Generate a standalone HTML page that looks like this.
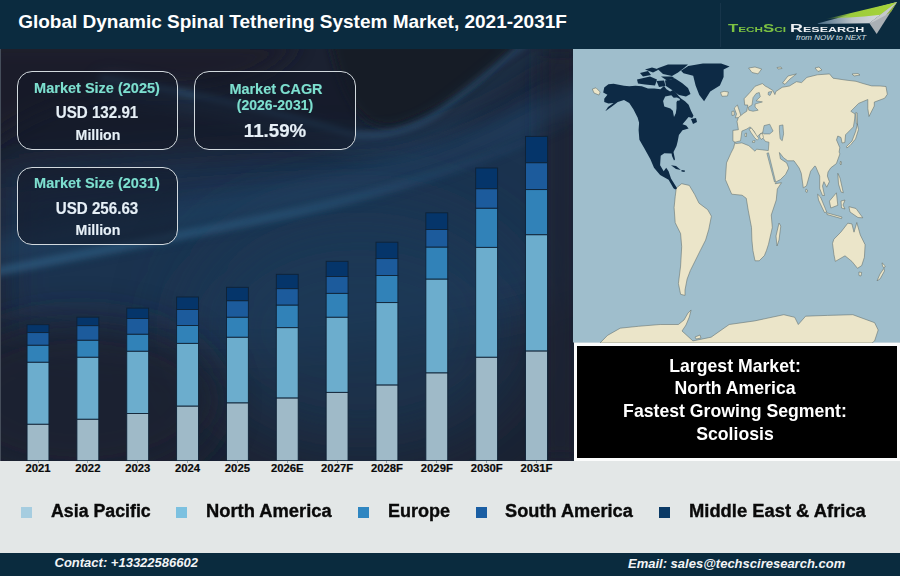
<!DOCTYPE html>
<html><head><meta charset="utf-8"><style>
html,body{margin:0;padding:0}
body{width:900px;height:576px;position:relative;overflow:hidden;background:#e3e7e7;font-family:"Liberation Sans", sans-serif}
.t{position:absolute;white-space:nowrap;line-height:1;font-family:"Liberation Sans", sans-serif}
</style></head><body>

<svg width="574" height="412" style="position:absolute;left:0;top:49px" viewBox="0 49 574 412">
 <defs>
  <filter id="b40" x="-50%" y="-50%" width="200%" height="200%"><feGaussianBlur stdDeviation="40"/></filter>
  <filter id="b20" x="-50%" y="-50%" width="200%" height="200%"><feGaussianBlur stdDeviation="20"/></filter>
  <filter id="b10" x="-50%" y="-50%" width="200%" height="200%"><feGaussianBlur stdDeviation="10"/></filter>
  <filter id="b5" x="-50%" y="-50%" width="200%" height="200%"><feGaussianBlur stdDeviation="5"/></filter>
  <filter id="b3" x="-50%" y="-50%" width="200%" height="200%"><feGaussianBlur stdDeviation="3"/></filter>
  <filter id="b2" x="-50%" y="-50%" width="200%" height="200%"><feGaussianBlur stdDeviation="1.8"/></filter>
  <linearGradient id="fadeR" x1="0" y1="0" x2="574" y2="0" gradientUnits="userSpaceOnUse">
   <stop offset="0" stop-color="#3a78a2" stop-opacity="0.75"/>
   <stop offset="0.5" stop-color="#3a78a2" stop-opacity="0.55"/>
   <stop offset="1" stop-color="#3a78a2" stop-opacity="0"/>
  </linearGradient>
 </defs>
 <rect x="0" y="49" width="574" height="412" fill="#1b2131"/>
 <!-- medium blue region between the streaks / center -->
 <path d="M0 175 Q 250 150 350 150 Q 450 150 574 60 L 574 300 Q 300 380 0 330 Z" fill="#1e3652" opacity="0.9" filter="url(#b20)"/>
 <ellipse cx="360" cy="330" rx="170" ry="120" fill="#1e3a58" opacity="0.7" filter="url(#b40)"/>
 <!-- darker lower-left and right edge -->
 <ellipse cx="80" cy="400" rx="140" ry="80" fill="#1b2030" opacity="0.8" filter="url(#b20)"/>
 <rect x="540" y="49" width="40" height="412" fill="#1b2130" opacity="0.8" filter="url(#b10)"/>
 <!-- dark blob upper right -->
 <path d="M330 40 Q 350 140 400 125 Q 470 100 520 40 Z" fill="#171a26" filter="url(#b5)"/>
 <!-- dark top-left -->
 <path d="M-20 40 L 300 40 Q 260 100 120 90 Q 40 100 -20 150 Z" fill="#1b1d2a" opacity="0.9" filter="url(#b10)"/>
 <!-- upper streak along blob edge -->
 <path d="M100 78 Q 240 100 350 134 Q 400 140 440 112 Q 480 80 530 40" fill="none" stroke="#3a75a0" stroke-width="4" opacity="0.55" filter="url(#b3)"/>
 <path d="M100 84 Q 240 108 350 142 Q 410 150 450 118 Q 490 88 540 45" fill="none" stroke="#2a5a80" stroke-width="14" opacity="0.35" filter="url(#b10)"/>
 <!-- lower streak -->
 <path d="M-30 270 Q 150 236 300 206 Q 450 172 600 98 L 600 76 Q 450 150 300 182 Q 150 210 -30 244 Z" fill="#24496c" opacity="0.45" filter="url(#b10)"/>
 <path d="M-30 281 Q 150 246 300 216 Q 450 182 600 116 L 600 108 Q 450 173 300 207 Q 150 237 -30 272 Z" fill="url(#fadeR)" opacity="0.6" filter="url(#b3)"/>
</svg>
<div style="position:absolute;left:0;top:49px;width:1px;height:411.7px;background:#454d5a"></div>
<svg width="574" height="470" style="position:absolute;left:0;top:0" viewBox="0 0 574 470">
<rect x="27.05" y="324.70" width="21.9" height="7.90" fill="#05356a" stroke="#0f2236" stroke-width="0.9"/>
<rect x="27.05" y="332.60" width="21.9" height="12.70" fill="#1c5b9c" stroke="#0f2236" stroke-width="0.9"/>
<rect x="27.05" y="345.30" width="21.9" height="17.00" fill="#3182b8" stroke="#0f2236" stroke-width="0.9"/>
<rect x="27.05" y="362.30" width="21.9" height="62.00" fill="#6cadcd" stroke="#0f2236" stroke-width="0.9"/>
<rect x="27.05" y="424.30" width="21.9" height="36.40" fill="#9fbac8" stroke="#0f2236" stroke-width="0.9"/>
<rect x="76.90" y="317.20" width="21.9" height="8.50" fill="#05356a" stroke="#0f2236" stroke-width="0.9"/>
<rect x="76.90" y="325.70" width="21.9" height="14.60" fill="#1c5b9c" stroke="#0f2236" stroke-width="0.9"/>
<rect x="76.90" y="340.30" width="21.9" height="17.00" fill="#3182b8" stroke="#0f2236" stroke-width="0.9"/>
<rect x="76.90" y="357.30" width="21.9" height="62.00" fill="#6cadcd" stroke="#0f2236" stroke-width="0.9"/>
<rect x="76.90" y="419.30" width="21.9" height="41.40" fill="#9fbac8" stroke="#0f2236" stroke-width="0.9"/>
<rect x="126.75" y="308.10" width="21.9" height="10.40" fill="#05356a" stroke="#0f2236" stroke-width="0.9"/>
<rect x="126.75" y="318.50" width="21.9" height="15.80" fill="#1c5b9c" stroke="#0f2236" stroke-width="0.9"/>
<rect x="126.75" y="334.30" width="21.9" height="17.00" fill="#3182b8" stroke="#0f2236" stroke-width="0.9"/>
<rect x="126.75" y="351.30" width="21.9" height="62.20" fill="#6cadcd" stroke="#0f2236" stroke-width="0.9"/>
<rect x="126.75" y="413.50" width="21.9" height="47.20" fill="#9fbac8" stroke="#0f2236" stroke-width="0.9"/>
<rect x="176.60" y="297.00" width="21.9" height="12.50" fill="#05356a" stroke="#0f2236" stroke-width="0.9"/>
<rect x="176.60" y="309.50" width="21.9" height="16.00" fill="#1c5b9c" stroke="#0f2236" stroke-width="0.9"/>
<rect x="176.60" y="325.50" width="21.9" height="17.90" fill="#3182b8" stroke="#0f2236" stroke-width="0.9"/>
<rect x="176.60" y="343.40" width="21.9" height="62.80" fill="#6cadcd" stroke="#0f2236" stroke-width="0.9"/>
<rect x="176.60" y="406.20" width="21.9" height="54.50" fill="#9fbac8" stroke="#0f2236" stroke-width="0.9"/>
<rect x="226.45" y="287.30" width="21.9" height="13.50" fill="#05356a" stroke="#0f2236" stroke-width="0.9"/>
<rect x="226.45" y="300.80" width="21.9" height="16.50" fill="#1c5b9c" stroke="#0f2236" stroke-width="0.9"/>
<rect x="226.45" y="317.30" width="21.9" height="20.00" fill="#3182b8" stroke="#0f2236" stroke-width="0.9"/>
<rect x="226.45" y="337.30" width="21.9" height="65.70" fill="#6cadcd" stroke="#0f2236" stroke-width="0.9"/>
<rect x="226.45" y="403.00" width="21.9" height="57.70" fill="#9fbac8" stroke="#0f2236" stroke-width="0.9"/>
<rect x="276.30" y="274.30" width="21.9" height="14.40" fill="#05356a" stroke="#0f2236" stroke-width="0.9"/>
<rect x="276.30" y="288.70" width="21.9" height="16.50" fill="#1c5b9c" stroke="#0f2236" stroke-width="0.9"/>
<rect x="276.30" y="305.20" width="21.9" height="22.50" fill="#3182b8" stroke="#0f2236" stroke-width="0.9"/>
<rect x="276.30" y="327.70" width="21.9" height="70.40" fill="#6cadcd" stroke="#0f2236" stroke-width="0.9"/>
<rect x="276.30" y="398.10" width="21.9" height="62.60" fill="#9fbac8" stroke="#0f2236" stroke-width="0.9"/>
<rect x="326.15" y="261.30" width="21.9" height="15.20" fill="#05356a" stroke="#0f2236" stroke-width="0.9"/>
<rect x="326.15" y="276.50" width="21.9" height="16.90" fill="#1c5b9c" stroke="#0f2236" stroke-width="0.9"/>
<rect x="326.15" y="293.40" width="21.9" height="23.90" fill="#3182b8" stroke="#0f2236" stroke-width="0.9"/>
<rect x="326.15" y="317.30" width="21.9" height="75.10" fill="#6cadcd" stroke="#0f2236" stroke-width="0.9"/>
<rect x="326.15" y="392.40" width="21.9" height="68.30" fill="#9fbac8" stroke="#0f2236" stroke-width="0.9"/>
<rect x="376.00" y="242.20" width="21.9" height="16.40" fill="#05356a" stroke="#0f2236" stroke-width="0.9"/>
<rect x="376.00" y="258.60" width="21.9" height="16.90" fill="#1c5b9c" stroke="#0f2236" stroke-width="0.9"/>
<rect x="376.00" y="275.50" width="21.9" height="27.10" fill="#3182b8" stroke="#0f2236" stroke-width="0.9"/>
<rect x="376.00" y="302.60" width="21.9" height="82.50" fill="#6cadcd" stroke="#0f2236" stroke-width="0.9"/>
<rect x="376.00" y="385.10" width="21.9" height="75.60" fill="#9fbac8" stroke="#0f2236" stroke-width="0.9"/>
<rect x="425.85" y="212.80" width="21.9" height="16.70" fill="#05356a" stroke="#0f2236" stroke-width="0.9"/>
<rect x="425.85" y="229.50" width="21.9" height="17.70" fill="#1c5b9c" stroke="#0f2236" stroke-width="0.9"/>
<rect x="425.85" y="247.20" width="21.9" height="32.00" fill="#3182b8" stroke="#0f2236" stroke-width="0.9"/>
<rect x="425.85" y="279.20" width="21.9" height="93.80" fill="#6cadcd" stroke="#0f2236" stroke-width="0.9"/>
<rect x="425.85" y="373.00" width="21.9" height="87.70" fill="#9fbac8" stroke="#0f2236" stroke-width="0.9"/>
<rect x="475.70" y="168.00" width="21.9" height="20.80" fill="#05356a" stroke="#0f2236" stroke-width="0.9"/>
<rect x="475.70" y="188.80" width="21.9" height="19.50" fill="#1c5b9c" stroke="#0f2236" stroke-width="0.9"/>
<rect x="475.70" y="208.30" width="21.9" height="39.10" fill="#3182b8" stroke="#0f2236" stroke-width="0.9"/>
<rect x="475.70" y="247.40" width="21.9" height="109.90" fill="#6cadcd" stroke="#0f2236" stroke-width="0.9"/>
<rect x="475.70" y="357.30" width="21.9" height="103.40" fill="#9fbac8" stroke="#0f2236" stroke-width="0.9"/>
<rect x="525.55" y="136.40" width="21.9" height="26.40" fill="#05356a" stroke="#0f2236" stroke-width="0.9"/>
<rect x="525.55" y="162.80" width="21.9" height="26.80" fill="#1c5b9c" stroke="#0f2236" stroke-width="0.9"/>
<rect x="525.55" y="189.60" width="21.9" height="45.20" fill="#3182b8" stroke="#0f2236" stroke-width="0.9"/>
<rect x="525.55" y="234.80" width="21.9" height="116.30" fill="#6cadcd" stroke="#0f2236" stroke-width="0.9"/>
<rect x="525.55" y="351.10" width="21.9" height="109.60" fill="#9fbac8" stroke="#0f2236" stroke-width="0.9"/>
</svg>
<div style="position:absolute;left:0;top:0;width:900px;height:49px;background:#0b2b3f"></div>
<div class="t" style="left:18.20px;top:12.32px;font-size:19px;color:#fff;font-weight:bold;font-style:normal;">Global Dynamic Spinal Tethering System Market, 2021-2031F</div>
<svg width="180" height="49" style="position:absolute;left:720px;top:0" viewBox="720 0 180 49">
 <line x1="720.5" y1="3" x2="720.5" y2="47" stroke="#17354a" stroke-width="1"/>
 <defs>
  <linearGradient id="wing" x1="815" y1="0" x2="897" y2="0" gradientUnits="userSpaceOnUse">
   <stop offset="0" stop-color="#3f6580"/><stop offset="0.45" stop-color="#b9c1c8"/><stop offset="1" stop-color="#e4e6e8"/>
  </linearGradient>
  <linearGradient id="grn" x1="825" y1="0" x2="897" y2="0" gradientUnits="userSpaceOnUse">
   <stop offset="0" stop-color="#8fc03a" stop-opacity="0"/><stop offset="0.35" stop-color="#9ccc3a"/><stop offset="1" stop-color="#a8d43c"/>
  </linearGradient>
 </defs>
 <polygon points="897,2 815.6,23.9 869.4,23.3" fill="url(#wing)"/>
 <polygon points="897,2 826,19 864,16.5 888,14" fill="url(#grn)"/>
 <polygon points="897,2 869.4,23.3 876.7,33.9" fill="#aab0b5"/>
 <polygon points="897,2 888,14 873,22 869.4,23.3" fill="#c5c9cc"/>
 <polygon points="897,2 886,15 891,12" fill="#8cab3a"/>
</svg>
<div class="t" style="left:727.8px;top:24.4px;font-size:10px;font-weight:bold;color:#7cc242;transform:scaleX(1.68);transform-origin:left top;font-variant:small-caps">TechSci</div>
<div class="t" style="left:790px;top:24.4px;font-size:10px;font-weight:bold;color:#eef1f4;transform:scaleX(1.79);transform-origin:left top;font-variant:small-caps">Research</div>
<div class="t" style="left:796px;top:34px;font-size:8px;font-style:italic;color:#d9e2e8">from NOW to NEXT</div>
<div style="position:absolute;left:17px;top:71.4px;width:161px;height:78.79999999999998px;box-sizing:border-box;border:1.8px solid #d2d9de;border-radius:15px;background:rgba(18,24,38,0.55)"></div>
<div class="t" style="left:-403.30px;width:1000px;text-align:center;top:80.05px;font-size:15.3px;color:#7ddfcf;font-weight:bold;font-style:normal;-webkit-text-stroke:0.15px #7ddfcf;transform:scaleX(0.948);transform-origin:center top;">Market Size (2025)</div>
<div class="t" style="left:-403.00px;width:1000px;text-align:center;top:104.39px;font-size:16.2px;color:#e6eff6;font-weight:bold;font-style:normal;-webkit-text-stroke:0.15px #e6eff6;transform:scaleX(0.935);transform-origin:center top;">USD 132.91</div>
<div class="t" style="left:-402.20px;width:1000px;text-align:center;top:128.19px;font-size:14.9px;color:#e6eff6;font-weight:bold;font-style:normal;-webkit-text-stroke:0.15px #e6eff6;transform:scaleX(0.95);transform-origin:center top;">Million</div>
<div style="position:absolute;left:194px;top:71.4px;width:162px;height:78.79999999999998px;box-sizing:border-box;border:1.8px solid #d2d9de;border-radius:15px;background:rgba(18,24,38,0.55)"></div>
<div class="t" style="left:-224.00px;width:1000px;text-align:center;top:81.74px;font-size:14.6px;color:#7ddfcf;font-weight:bold;font-style:normal;-webkit-text-stroke:0.15px #7ddfcf;transform:scaleX(0.99);transform-origin:center top;">Market CAGR</div>
<div class="t" style="left:-225.00px;width:1000px;text-align:center;top:97.84px;font-size:14.6px;color:#7ddfcf;font-weight:bold;font-style:normal;-webkit-text-stroke:0.15px #7ddfcf;transform:scaleX(0.96);transform-origin:center top;">(2026-2031)</div>
<div class="t" style="left:-224.80px;width:1000px;text-align:center;top:121.45px;font-size:19.2px;color:#e6eff6;font-weight:bold;font-style:normal;-webkit-text-stroke:0.2px #e6eff6;transform:scaleX(0.975);transform-origin:center top;">11.59%</div>
<div style="position:absolute;left:17px;top:166.8px;width:161px;height:78.39999999999998px;box-sizing:border-box;border:1.8px solid #d2d9de;border-radius:15px;background:rgba(18,24,38,0.55)"></div>
<div class="t" style="left:-403.20px;width:1000px;text-align:center;top:175.45px;font-size:15.3px;color:#7ddfcf;font-weight:bold;font-style:normal;-webkit-text-stroke:0.15px #7ddfcf;transform:scaleX(0.948);transform-origin:center top;">Market Size (2031)</div>
<div class="t" style="left:-402.80px;width:1000px;text-align:center;top:199.69px;font-size:16.2px;color:#e6eff6;font-weight:bold;font-style:normal;-webkit-text-stroke:0.15px #e6eff6;transform:scaleX(0.935);transform-origin:center top;">USD 256.63</div>
<div class="t" style="left:-402.00px;width:1000px;text-align:center;top:223.49px;font-size:14.9px;color:#e6eff6;font-weight:bold;font-style:normal;-webkit-text-stroke:0.15px #e6eff6;transform:scaleX(0.95);transform-origin:center top;">Million</div>
<div style="position:absolute;left:0;top:460.7px;width:900px;height:92.3px;background:#e3e7e7"></div>
<div class="t" style="left:-462.00px;width:1000px;text-align:center;top:462.93px;font-size:11.3px;color:#0a0a0a;font-weight:bold;font-style:normal;-webkit-text-stroke:0.2px #0a0a0a;">2021</div>
<div style="position:absolute;left:37.50px;top:460.7px;width:1px;height:2.5px;background:#9aa4aa"></div>
<div class="t" style="left:-412.15px;width:1000px;text-align:center;top:462.93px;font-size:11.3px;color:#0a0a0a;font-weight:bold;font-style:normal;-webkit-text-stroke:0.2px #0a0a0a;">2022</div>
<div style="position:absolute;left:87.35px;top:460.7px;width:1px;height:2.5px;background:#9aa4aa"></div>
<div class="t" style="left:-362.30px;width:1000px;text-align:center;top:462.93px;font-size:11.3px;color:#0a0a0a;font-weight:bold;font-style:normal;-webkit-text-stroke:0.2px #0a0a0a;">2023</div>
<div style="position:absolute;left:137.20px;top:460.7px;width:1px;height:2.5px;background:#9aa4aa"></div>
<div class="t" style="left:-312.45px;width:1000px;text-align:center;top:462.93px;font-size:11.3px;color:#0a0a0a;font-weight:bold;font-style:normal;-webkit-text-stroke:0.2px #0a0a0a;">2024</div>
<div style="position:absolute;left:187.05px;top:460.7px;width:1px;height:2.5px;background:#9aa4aa"></div>
<div class="t" style="left:-262.60px;width:1000px;text-align:center;top:462.93px;font-size:11.3px;color:#0a0a0a;font-weight:bold;font-style:normal;-webkit-text-stroke:0.2px #0a0a0a;">2025</div>
<div style="position:absolute;left:236.90px;top:460.7px;width:1px;height:2.5px;background:#9aa4aa"></div>
<div class="t" style="left:-212.75px;width:1000px;text-align:center;top:462.93px;font-size:11.3px;color:#0a0a0a;font-weight:bold;font-style:normal;-webkit-text-stroke:0.2px #0a0a0a;">2026E</div>
<div style="position:absolute;left:286.75px;top:460.7px;width:1px;height:2.5px;background:#9aa4aa"></div>
<div class="t" style="left:-162.90px;width:1000px;text-align:center;top:462.93px;font-size:11.3px;color:#0a0a0a;font-weight:bold;font-style:normal;-webkit-text-stroke:0.2px #0a0a0a;">2027F</div>
<div style="position:absolute;left:336.60px;top:460.7px;width:1px;height:2.5px;background:#9aa4aa"></div>
<div class="t" style="left:-113.05px;width:1000px;text-align:center;top:462.93px;font-size:11.3px;color:#0a0a0a;font-weight:bold;font-style:normal;-webkit-text-stroke:0.2px #0a0a0a;">2028F</div>
<div style="position:absolute;left:386.45px;top:460.7px;width:1px;height:2.5px;background:#9aa4aa"></div>
<div class="t" style="left:-63.20px;width:1000px;text-align:center;top:462.93px;font-size:11.3px;color:#0a0a0a;font-weight:bold;font-style:normal;-webkit-text-stroke:0.2px #0a0a0a;">2029F</div>
<div style="position:absolute;left:436.30px;top:460.7px;width:1px;height:2.5px;background:#9aa4aa"></div>
<div class="t" style="left:-13.35px;width:1000px;text-align:center;top:462.93px;font-size:11.3px;color:#0a0a0a;font-weight:bold;font-style:normal;-webkit-text-stroke:0.2px #0a0a0a;">2030F</div>
<div style="position:absolute;left:486.15px;top:460.7px;width:1px;height:2.5px;background:#9aa4aa"></div>
<div class="t" style="left:36.50px;width:1000px;text-align:center;top:462.93px;font-size:11.3px;color:#0a0a0a;font-weight:bold;font-style:normal;-webkit-text-stroke:0.2px #0a0a0a;">2031F</div>
<div style="position:absolute;left:536.00px;top:460.7px;width:1px;height:2.5px;background:#9aa4aa"></div>
<div style="position:absolute;left:21px;top:507px;width:11px;height:11px;background:#a6cde0"></div>
<div class="t" style="left:50.60px;top:503.20px;font-size:17.6px;color:#0a0a0a;font-weight:bold;font-style:normal;-webkit-text-stroke:0.35px #0a0a0a;transform:scaleX(1.0098);transform-origin:left top;">Asia Pacific</div>
<div style="position:absolute;left:176px;top:507px;width:11px;height:11px;background:#7cc1e0"></div>
<div class="t" style="left:205.70px;top:503.20px;font-size:17.6px;color:#0a0a0a;font-weight:bold;font-style:normal;-webkit-text-stroke:0.35px #0a0a0a;transform:scaleX(1.04247);transform-origin:left top;">North America</div>
<div style="position:absolute;left:358.3px;top:507px;width:11px;height:11px;background:#2f86c1"></div>
<div class="t" style="left:388.30px;top:503.20px;font-size:17.6px;color:#0a0a0a;font-weight:bold;font-style:normal;-webkit-text-stroke:0.35px #0a0a0a;transform:scaleX(1.0246499999999998);transform-origin:left top;">Europe</div>
<div style="position:absolute;left:476px;top:507px;width:11px;height:11px;background:#1a5ea3"></div>
<div class="t" style="left:505.00px;top:503.20px;font-size:17.6px;color:#0a0a0a;font-weight:bold;font-style:normal;-webkit-text-stroke:0.35px #0a0a0a;transform:scaleX(1.0345499999999999);transform-origin:left top;">South America</div>
<div style="position:absolute;left:659px;top:507px;width:11px;height:11px;background:#0b3a66"></div>
<div class="t" style="left:689.00px;top:503.20px;font-size:17.6px;color:#0a0a0a;font-weight:bold;font-style:normal;-webkit-text-stroke:0.35px #0a0a0a;transform:scaleX(1.04346);transform-origin:left top;">Middle East &amp; Africa</div>
<div style="position:absolute;left:0;top:553px;width:900px;height:23px;background:#0a2b3e"></div>
<div class="t" style="left:54.50px;top:555.80px;font-size:13px;color:#f2f4f6;font-weight:bold;font-style:italic;">Contact: +13322586602</div>
<div class="t" style="left:628.00px;top:557.00px;font-size:13px;color:#f2f4f6;font-weight:bold;font-style:italic;">Email: sales@techsciresearch.com</div>
<svg width="327" height="293.5" style="position:absolute;left:573px;top:49px" viewBox="573 49 327 293.5">
 <rect x="573" y="49" width="327" height="293.5" fill="#9fbecc"/>
 <g fill="#ebe5c9" stroke="#5f6d6b" stroke-width="0.55" stroke-linejoin="round">
  <!-- Chukotka -->
  <path d="M592.3 89 L596 87.8 L600.2 92 L599 95.1 L594 93 Z"/>
  <!-- Iceland -->
  <path d="M720.5 92.5 L724 91.3 L728.4 92 L727.5 96 L722 96.3 Z"/>
  <!-- Svalbard -->
  <path d="M748.6 68 L755 67 L761.7 69 L758 73.9 L752 72.5 Z"/>
  <!-- Franz Josef / small -->
  <path d="M777 67.5 L781 67 L782 68.5 L778 69 Z"/>
  <!-- Novaya Zemlya -->
  <path d="M782.5 83 L788 76 L796.4 73.9 L790 79 L785 84.3 Z"/>
  <!-- Severnaya Zemlya / New Siberian -->
  <path d="M815 68 L819 67 L822 70 L818 71.5 Z"/>
  <path d="M852 74 L858 73.5 L860 75 L854 76 Z"/>
  <!-- UK + Ireland -->
  <path d="M734.25 108.1 L737.4 105 L739.5 111.25 L741.5 117.5 L735.3 117.8 L736.5 114 Z"/>
  <path d="M731.8 111.5 L734 111 L734.3 115 L732 115.5 Z"/>
  <!-- Eurasia + Africa -->
  <path d="M744.7 105 L744.1 98.75 L749.9 92.5 L755.1 86.25 L762.4 83.6 L765.5 86.25 L767.6 87.3 L772.8 90.4 L774.9 94.6 L775.9 91.5 L782.2 87.3 L789.4 86 L796.4 81.7 L801.6 82.6 L806.9 77.4 L817.4 74.8 L829.5 73.9 L833 78.2 L845.1 80 L856 81.3 L863 83.5 L871.7 85.9 L880 86 L886 86.5 L887.3 94.3 L884.7 98.2 L874.3 102.1 L874.3 106 L869 116.5 L867.8 108.6 L867.8 99.5 L858.6 103.4 L850.8 111.25 L855 114 L854.7 119 L853.4 126.9 L845.6 134.7 L844.8 142.5 L842 143 L841 137.5 L837.8 136 L836.5 139.9 L839.8 147.7 L839.1 152 L839.9 153.9 L836.4 163.6 L830.8 167.8 L828 172 L827.4 176.1 L829.4 181.7 L826.7 187.2 L823.9 181.7 L822.5 186 L824.5 195.5 L822.5 195.5 L819.7 188.6 L819.7 176.1 L815.6 166.4 L814.8 166 L810.6 171.25 L806.5 185.8 L803.3 187.9 L801.25 173.3 L799.2 168.1 L794 160.8 L787.7 160.8 L783.5 157.7 L779.4 152.5 L780.4 158.75 L786.7 162.9 L788.75 168.1 L785.6 174.4 L780.4 179.6 L776.25 181.7 L775.2 183.75 L781.5 182.7 L777.3 189 L776.25 200 L771.25 215 L772.3 227.5 L768.5 244.2 L766.5 250.4 L764.4 255.6 L759.2 260.8 L755 260.8 L752.9 250.4 L751.9 240 L751.5 227.5 L748.3 210.8 L746.25 198.3 L742.1 195.2 L731.7 194.2 L725.4 179.6 L726.5 162.9 L730.8 153.3 L733.6 147.8 L735 142.2 L732.9 140.8 L732.9 130.4 L738.4 129.7 L737 121.4 L738.4 117.5 L743.6 113.3 L746.75 111.25 L747.8 105 Z"/>
  <!-- Madagascar -->
  <path d="M779 223 L780.8 226 L779 240 L777 246 L776 236 Z"/>
  <!-- Sri Lanka -->
  <path d="M806 189 L807.5 190 L807 192.5 L805.5 191.5 Z"/>
  <!-- Japan -->
  <path d="M857.3 124 L858.5 129.5 L855.5 139 L850 145.5 L846.9 148 L846.5 146.5 L852 141 L855.8 131 Z"/>
  <path d="M855.8 112.5 L857.2 113 L857.5 124 L856.3 123.5 Z"/>
  <!-- Taiwan / Hainan -->
  <path d="M840.5 161 L841.5 162 L841 165 L840 164 Z"/>
  <!-- Sumatra, Java -->
  <path d="M817.6 194.2 L820.5 197 L826.7 212 L824.5 212.5 L818.5 200 Z"/>
  <path d="M826.7 212.8 L842 217 L841.5 218.6 L827 214.5 Z"/>
  <!-- Borneo -->
  <path d="M829.4 201.1 L836.4 192.8 L837.8 205.3 L830.8 208 Z"/>
  <!-- Sulawesi -->
  <path d="M841 201 L845 200 L843 205 L845 209 L841.5 208 Z"/>
  <!-- Philippines -->
  <path d="M837.8 173.3 L840 178 L843.3 192.8 L841 192 L838.5 184 Z"/>
  <!-- New Guinea -->
  <path d="M848.9 206.7 L856 208.5 L862.8 217.8 L858 217.5 L850 212 Z"/>
  <!-- Australia -->
  <path d="M833.9 239.2 L840.8 232.2 L847.8 223.2 L851.9 223.9 L854 232.2 L856.8 222.5 L860.3 235 L865.1 244.7 L864.4 257.2 L861.7 265.6 L857.5 268.3 L851.9 261.4 L845 255.8 L835.3 261.4 L833.9 254.4 L832.5 243.3 Z"/>
  <path d="M858.9 272 L861.7 272.5 L861 276 L859 275.5 Z"/>
  <!-- New Zealand -->
  <path d="M877 280.8 L880 274 L883.9 268.3 L884.5 271 L880 279 Z"/>
  <path d="M882 262.8 L885.3 266 L884 268 L882.5 266 Z"/>
  <!-- South America -->
  <path d="M676.3 188 L681.7 183.7 L689.3 185.4 L694.7 194.5 L699 203.2 L707.7 209.7 L711.4 216.2 L708.8 229.2 L705.6 240.1 L700.1 250.9 L694.7 261.8 L690.4 270.4 L687.1 279.1 L685 290 L685 295.4 L680.6 294.3 L678.4 283.5 L680.6 266.1 L681.7 246.6 L680.6 233.6 L675.2 222.7 L674.1 207.5 L675.2 196.7 Z"/>
  <!-- Antarctica -->
  <path d="M600 343 L607.5 335.4 L620.2 328.2 L638.4 326.3 L660.2 324.5 L678.4 324.5 L684 320 L688 313 L691.1 310 L689.3 317 L686 325 L682 331 L692.9 340.9 L711.1 337.2 L729.2 324.5 L754.7 320.9 L783.8 314.7 L794.7 317.3 L798.3 324.5 L805.6 316.2 L827.4 315.4 L852.8 314.7 L874.6 322.7 L878.2 330 L874.6 340.9 L872 343 Z"/>
  <path d="M695 337 L700 335 L701 338 L696 339 Z"/>
 </g>
 <!-- inland seas -->
 <g fill="#9fbecc" stroke="#5f6d6b" stroke-width="0.5" stroke-linejoin="round">
  <!-- Mediterranean -->
  <path d="M735 142.2 L740.5 140.8 L741.9 131.1 L746.75 129 L750.2 126.9 L754.4 131.8 L756.5 137.4 L758.6 135.3 L760 133.9 L762.7 132.5 L761.3 136 L765.5 141.5 L769 142.2 L768.3 150.6 L762.7 149.9 L756.5 149.2 L755 151.25 L748.8 145.7 L741.9 142.9 L735.6 143.6 Z"/>
  <!-- Black Sea -->
  <path d="M762.7 132.5 L764.1 125.6 L769.7 124.2 L773.1 131.1 L769.7 133.9 L764.1 133.9 Z"/>
  <!-- Caspian -->
  <path d="M779.4 125.6 L782.9 124.9 L783.6 133.9 L782.2 140.8 L780.1 138.75 L779.4 130.4 Z"/>
  <!-- Baltic -->
  <path d="M759.25 92.5 L760.3 96.7 L756.1 100.8 L762.4 101.9 L755.1 104 L755.1 107.1 L758.2 110.2 L753 111.25 L748.8 110.2 L748.3 107.1 L752 105 L753 97.7 L756.1 93.5 Z"/>
  <!-- Red Sea -->
  <path d="M766.9 153.3 L768.5 152.8 L775.6 181.7 L774.5 182 Z"/>
  <!-- White Sea -->
  <path d="M768.5 92 L772 91.5 L770 95.5 L768 94.5 Z"/>
 </g>
 <g fill="#ebe5c9" stroke="#5f6d6b" stroke-width="0.5" stroke-linejoin="round">
  <path d="M749 129 L751.5 128 L754 131.5 L757 136 L758.8 138.3 L757.2 140.2 L754.5 137.5 L751 132.5 Z"/>
  <path d="M752.5 141 L755 140.5 L754.5 142.5 L752.5 142.5 Z"/>
  <path d="M745 133.5 L746.5 133 L746.5 136.5 L745 136.5 Z"/>
  <path d="M760 134 L762.5 133.5 L763.5 137.5 L761.5 139.5 L759.5 137 Z"/>
 </g>
 <!-- North America (dark) -->
 <g fill="#0d2a45">
  <path d="M604.25 87.4 L608.4 84.25 L613.6 83.7 L624 85.8 L629.25 86.3 L635.5 85.8 L641.75 86.3 L648 88.4 L654.3 88.6 L660.4 89.2 L664 86.1 L666.5 89.2 L670.1 91.6 L673 90 L676 92.5 L678.6 96 L681 98.5 L685 101.3 L688.6 104.7 L691 110.8 L693.5 115.7 L692.2 118.1 L688.6 116.9 L682.5 124.2 L686.2 125.4 L688.6 128.4 L682.5 130.2 L678.9 135.1 L677.7 141.2 L676.5 146 L673.5 152 L675 159.5 L674 160.6 L672 156 L671.6 153.5 L664.3 153.3 L660.7 155.8 L660.1 165.2 L663.7 171.3 L666.2 167.7 L668.6 171.3 L671 178.6 L677.1 188.3 L675.3 189.5 L673.5 188.3 L668.6 179.8 L660.1 175 L654 167.7 L650.4 159.2 L644.3 148.2 L639.4 139.7 L638.6 130 L639.1 122.8 L637.6 117.6 L633.4 109.25 L629.25 103 L624 99.9 L617.8 102 L612.6 106.1 L605.3 111.3 L608 107 L613.6 103 L608.4 103.5 L604.25 102 L604.25 98.8 L607.4 94.7 L603.2 92.6 Z"/>
  <!-- Newfoundland -->
  <path d="M691 119 L696 118 L697 122 L693 124 Z"/>
  <!-- Baffin -->
  <path d="M665 80.5 L675 78.5 L682 83 L688 88 L690.5 94 L686 96.5 L679 95 L672 90 L666 86 Z"/>
  <!-- Ellesmere -->
  <path d="M657 68.5 L668 64.5 L688 64.5 L684 68 L678 72.5 L672 76 L663 74 Z"/>
  <!-- Devon -->
  <path d="M661 76.5 L672 76.5 L675 78.5 L667 80.5 Z"/>
  <!-- Victoria -->
  <path d="M637 79.5 L650 76.5 L657 79.5 L655 85.5 L645 84.5 L638 83.5 Z"/>
  <!-- Banks -->
  <path d="M640 73 L648 71 L651 75 L643 76.5 Z"/>
  <!-- Parry row -->
  <path d="M645 69.5 L652 67.5 L659 69.5 L653 72.5 Z"/>
  <!-- Somerset / POW -->
  <path d="M656.5 81 L664 80.5 L665.5 86 L659 87 Z"/>
  <!-- Southampton -->
  <path d="M668 93 L673 92.5 L674 95 L669 95.5 Z"/>
  <!-- Greenland -->
  <path d="M681 70.8 L688.3 65.9 L702.9 63.5 L721.1 63.5 L729.6 66.5 L723.6 69.6 L723.6 76.9 L719.9 85.4 L710.2 91.5 L704.1 101.2 L699.3 95.1 L695.6 85.4 L693.2 75.7 L683.5 73.2 Z"/>
  <!-- Cuba / Hispaniola -->
  <path d="M671 165.2 L676 166 L680.8 170.1 L676 169 Z"/>
  <path d="M681.5 170 L685 170.5 L684.5 172 L681.5 171.5 Z"/>
 </g>
 <!-- Hudson Bay -->
 <path fill="#9fbecc" d="M663.1 101.1 L665.2 96.5 L671.3 95.2 L673.7 97.7 L677 97.5 L680 99 L679.5 100.5 L677.2 100.8 L676.5 102.3 L676.5 108.4 L675.8 113.2 L674 116.9 L672.8 110.8 L670.4 108.4 L664.3 106.5 Z"/>
</svg>
<div style="position:absolute;left:573.5px;top:342.5px;width:326.5px;height:118.5px;background:#fbfcfc"></div>
<div style="position:absolute;left:577px;top:346px;width:320px;height:112px;background:#000"></div>
<div class="t" style="left:234.50px;width:1000px;text-align:center;top:356.56px;font-size:18.6px;color:#fff;font-weight:bold;font-style:normal;transform:scaleX(0.95);transform-origin:center top;">Largest Market:</div>
<div class="t" style="left:234.50px;width:1000px;text-align:center;top:379.26px;font-size:18.6px;color:#fff;font-weight:bold;font-style:normal;transform:scaleX(0.95);transform-origin:center top;">North America</div>
<div class="t" style="left:234.50px;width:1000px;text-align:center;top:402.26px;font-size:18.6px;color:#fff;font-weight:bold;font-style:normal;transform:scaleX(0.95);transform-origin:center top;">Fastest Growing Segment:</div>
<div class="t" style="left:234.50px;width:1000px;text-align:center;top:425.06px;font-size:18.6px;color:#fff;font-weight:bold;font-style:normal;transform:scaleX(0.95);transform-origin:center top;">Scoliosis</div>

</body></html>
